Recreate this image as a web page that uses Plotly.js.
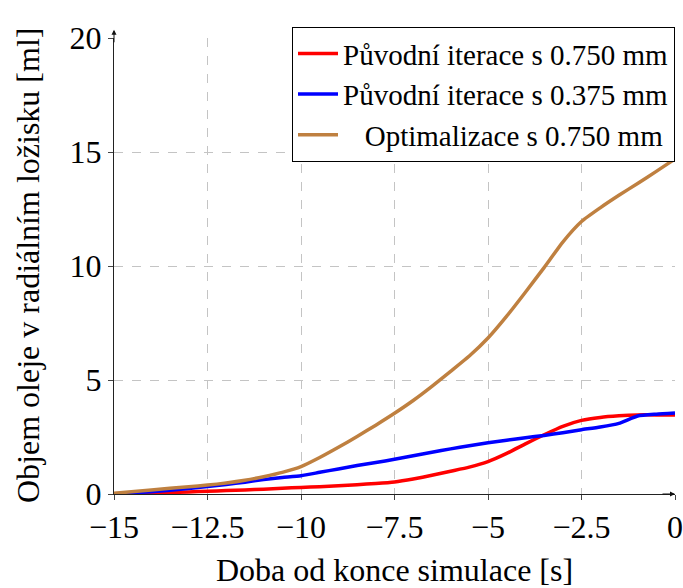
<!DOCTYPE html>
<html>
<head>
<meta charset="utf-8">
<script src="https://cdn.plot.ly/plotly-3.0.1.min.js"></script>
<style>html,body{margin:0;padding:0;background:#fff;}#chart{width:683px;height:588px;}</style>
</head>
<body>
<div id="chart"></div>
<script>
// Time before end of simulation [s]
const timeS = [-15, -14, -13, -12.5, -12, -11.5, -11, -10.5, -10, -9.5, -9, -8.5, -8, -7.5, -7, -6.5, -6, -5.5, -5, -4.5, -4, -3.5, -3, -2.5, -2, -1.5, -1, -0.5, 0];

// Původní iterace s 0.750 mm
const original750 = [0.01, 0.04, 0.09, 0.12, 0.15, 0.18, 0.21, 0.25, 0.29, 0.32, 0.36, 0.41, 0.46, 0.53, 0.66, 0.82, 1.0, 1.18, 1.42, 1.78, 2.2, 2.6, 2.97, 3.23, 3.36, 3.43, 3.47, 3.47, 3.46];

// Původní iterace s 0.375 mm
const original375 = [0.0, 0.1, 0.24, 0.33, 0.42, 0.52, 0.63, 0.72, 0.8, 0.95, 1.1, 1.25, 1.38, 1.52, 1.68, 1.83, 1.98, 2.12, 2.25, 2.36, 2.47, 2.57, 2.69, 2.82, 2.94, 3.1, 3.42, 3.5, 3.55];

// Optimalizace s 0.750 mm
const optimised750 = [0.03, 0.18, 0.32, 0.39, 0.48, 0.6, 0.76, 0.95, 1.2, 1.6, 2.05, 2.52, 3.02, 3.54, 4.1, 4.72, 5.38, 6.05, 6.84, 7.8, 8.85, 9.93, 11.05, 11.95, 12.55, 13.1, 13.62, 14.15, 14.7];

const seriesNames = ["Původní iterace s 0.750 mm", "Původní iterace s 0.375 mm", "\u00a0\u00a0\u00a0Optimalizace s 0.750 mm"];
const seriesColors = ["#ff0000", "#0000ff", "#bf8040"];

const xTickVals = [-15, -12.5, -10, -7.5, -5, -2.5, 0];
const xTickText = ["\u221215", "\u221212.5", "\u221210", "\u22127.5", "\u22125", "\u22122.5", "0"];
const yTickVals = [0, 5, 10, 15, 20];
const yTickText = ["0", "5", "10", "15", "20"];

const xTitle = "Doba od konce simulace [s]";
const yTitle = "Objem oleje v radiálním ložisku [ml]";

const FONT = "Liberation Serif, Times New Roman, serif";

const ys = [original750, original375, optimised750];
const traces = ys.map((y, i) => ({
  x: timeS, y: y, type: "scatter", mode: "lines", name: seriesNames[i],
  line: {color: seriesColors[i], width: 3.5, shape: "spline", smoothing: 0.5},
  cliponaxis: false
}));

const layout = {
  width: 683, height: 588,
  margin: {l: 114, r: 8, t: 38, b: 94},
  paper_bgcolor: "#ffffff", plot_bgcolor: "#ffffff",
  font: {family: FONT, size: 32, color: "#000"},
  showlegend: true,
  legend: {
    x: 1, xanchor: "right", y: 1.024, yanchor: "top",
    bgcolor: "#ffffff", bordercolor: "#000000", borderwidth: 1,
    font: {family: FONT, size: 29, color: "#000"},
    tracegroupgap: 0, itemwidth: 40
  },
  xaxis: {
    range: [-15, 0], tickvals: xTickVals, ticktext: xTickText,
    showgrid: true, gridcolor: "#c4c4c4", griddash: "dash", gridwidth: 1,
    zeroline: false, showline: true, linecolor: "#222", linewidth: 1,
    ticks: "outside", ticklen: 5, tickcolor: "#444",
    tickfont: {family: FONT, size: 32},
    title: {text: xTitle, font: {family: FONT, size: 32}, standoff: 18}
  },
  yaxis: {
    range: [0, 20], tickvals: yTickVals, ticktext: yTickText,
    showgrid: true, gridcolor: "#c4c4c4", griddash: "dash", gridwidth: 1,
    zeroline: false, showline: true, linecolor: "#222", linewidth: 1,
    ticks: "outside", ticklen: 5, tickcolor: "#444",
    tickfont: {family: FONT, size: 32}
  },
  annotations: [
    {x: 0, y: 0.5, xref: "paper", yref: "paper", xshift: -86, xanchor: "center", yanchor: "middle",
     textangle: -90, text: yTitle, showarrow: false, font: {family: FONT, size: 32, color: "#000"}},
    {x: 0, y: 0, xref: "x", yref: "y", ax: -14, ay: 0, axref: "pixel", ayref: "pixel",
     text: "", showarrow: true, arrowhead: 2, arrowsize: 1, arrowwidth: 1, arrowcolor: "#111", standoff: 0},
    {x: -15, y: 1.018, xref: "x", yref: "paper", ax: 0, ay: 14,
     text: "", showarrow: true, arrowhead: 2, arrowsize: 1, arrowwidth: 1, arrowcolor: "#111", standoff: 0}
  ]
};

Plotly.newPlot("chart", traces, layout, {displayModeBar: false, staticPlot: true});
</script>
</body>
</html>
